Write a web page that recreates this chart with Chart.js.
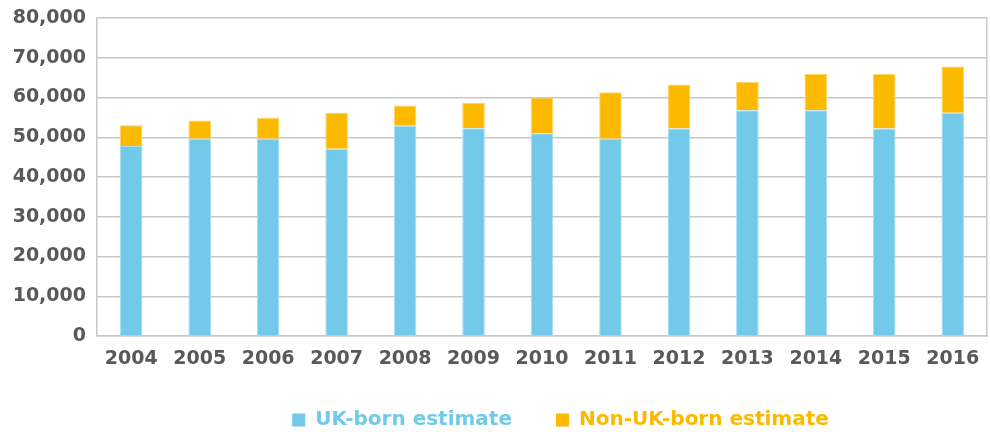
<!DOCTYPE html>
<html>
<head>
<meta charset="utf-8">
<script src="https://cdn.jsdelivr.net/npm/chart.js@4.4.1/dist/chart.umd.min.js"></script>
<style>
  html, body { margin: 0; padding: 0; background: #fff; }
  #wrap { width: 990px; height: 432px; }
</style>
</head>
<body>
<div id="wrap"><canvas id="grafica"></canvas></div>
<script>
// Datos
var anios = ['2004', '2005', '2006', '2007', '2008', '2009', '2010', '2011', '2012', '2013', '2014', '2015', '2016'];
var nacidosUK = [47800, 49600, 49600, 47100, 52900, 52300, 51000, 49600, 52200, 56800, 56800, 52200, 56200];
var noNacidosUK = [5200, 4600, 5300, 9100, 5100, 6400, 9000, 11700, 11100, 7100, 9100, 13700, 11600];
var ticksY = [0, 10000, 20000, 30000, 40000, 50000, 60000, 70000, 80000];

var azul = '#72C9EA';
var naranja = '#FBB900';
var gris = '#595959';
var fuente = { family: 'DejaVu Sans', weight: 'bold', size: 19 };

// mueve la leyenda un poco a la derecha, como en el original
var moverLeyenda = {
    id: 'moverLeyenda',
    afterLayout: function (chart) {
        chart.legend.left += 131;
    }
};

var ctx = document.getElementById('grafica').getContext('2d');

var myChart = new Chart(ctx, {
    type: 'bar',
    data: {
        labels: anios,
        datasets: [{
            label: 'UK-born estimate',
            data: nacidosUK,
            backgroundColor: azul,
            borderColor: '#A9DDF2',
            borderWidth: 1
        }, {
            label: 'Non-UK-born estimate',
            data: noNacidosUK,
            backgroundColor: naranja,
            borderColor: '#FDD46A',
            borderWidth: 1
        }]
    },
    plugins: [moverLeyenda],
    options: {
        responsive: true,
        maintainAspectRatio: false,
        animation: false,
        layout: { padding: { top: 0, right: 0, left: 0, bottom: 0 } },
        datasets: { bar: { categoryPercentage: 1, barPercentage: 0.33 } },
        plugins: {
            tooltip: { enabled: false },
            legend: {
                position: 'bottom',
                maxHeight: 66,
                labels: {
                    font: { family: 'DejaVu Sans', weight: 'bold', size: 20 },
                    boxWidth: 13,
                    boxHeight: 13,
                    padding: 44,
                    generateLabels: function (chart) {
                        return chart.data.datasets.map(function (ds, i) {
                            return {
                                text: ds.label,
                                fillStyle: ds.backgroundColor,
                                strokeStyle: ds.backgroundColor,
                                lineWidth: 0,
                                fontColor: ds.backgroundColor,
                                datasetIndex: i,
                                hidden: false
                            };
                        });
                    }
                }
            }
        },
        scales: {
            x: {
                stacked: true,
                grid: { display: false },
                border: { display: true, color: '#c8c8c8', width: 1.5 },
                ticks: { color: gris, font: fuente, padding: 4, maxRotation: 0 },
                afterFit: function (s) { s.height = 30; }
            },
            y: {
                stacked: true,
                min: 0,
                max: 80000,
                afterBuildTicks: function (s) { s.ticks = ticksY.map(function (v) { return { value: v }; }); },
                grid: { color: '#c8c8c8', lineWidth: 1.5, drawTicks: false },
                border: { display: true, color: '#c8c8c8', width: 1.5 },
                ticks: {
                    color: gris,
                    font: { family: 'DejaVu Sans', weight: 'bold', size: 19, lineHeight: 0.74 },
                    padding: 11,
                    callback: function (v) { return v.toLocaleString('en-US'); }
                },
                afterFit: function (s) { s.width = 97; }
            },
            y2: {
                position: 'right',
                min: 0,
                max: 80000,
                grid: { display: false, drawTicks: false },
                border: { display: true, color: '#c8c8c8', width: 1.5 },
                ticks: { display: false },
                afterFit: function (s) { s.width = 3; }
            }
        }
    }
});
</script>
</body>
</html>
